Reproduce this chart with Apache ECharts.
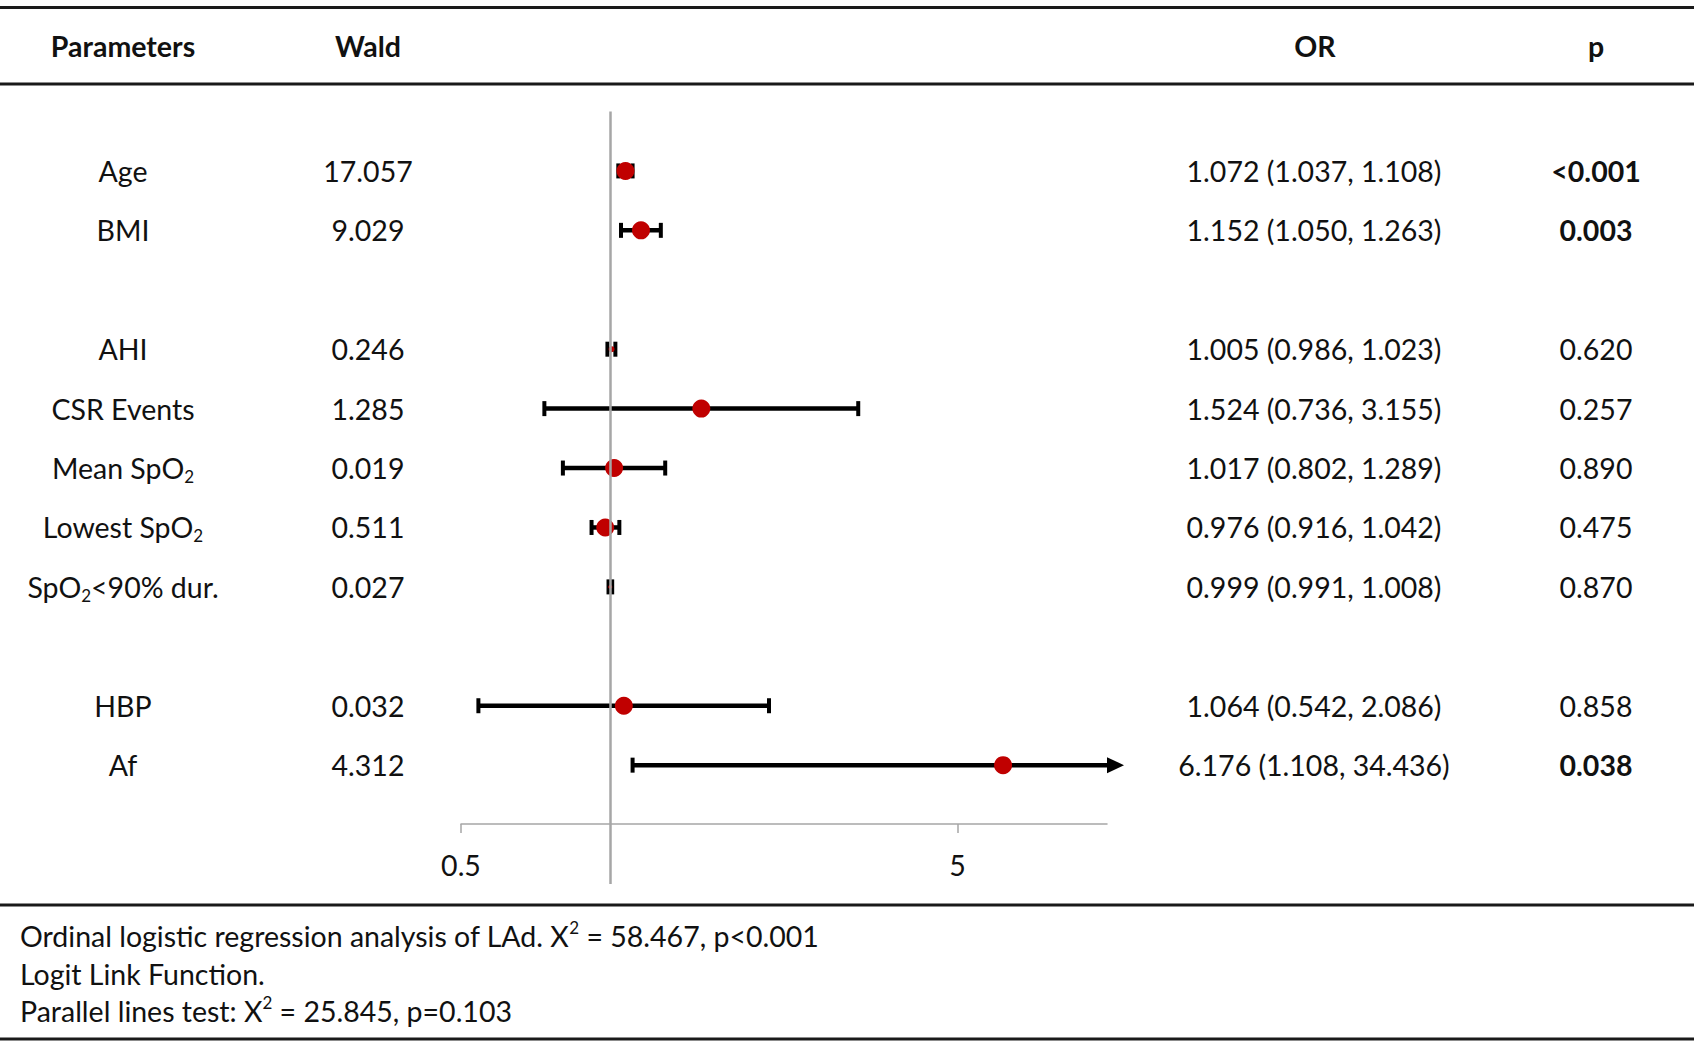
<!DOCTYPE html>
<html><head><meta charset="utf-8">
<script src="https://cdn.jsdelivr.net/npm/echarts@6/dist/echarts.min.js"></script>
<style>html,body{margin:0;padding:0;background:#fff}#c{width:1694px;height:1042px}</style>
</head><body><div id="c"></div>
<script>
// ---------------- data ----------------
const parameters = ['Age', 'BMI', 'AHI', 'CSR Events', 'Mean SpO2', 'Lowest SpO2', 'SpO2<90% dur.', 'HBP', 'Af'];
const waldValues = ['17.057', '9.029', '0.246', '1.285', '0.019', '0.511', '0.027', '0.032', '4.312'];
const oddsRatios = [1.072, 1.152, 1.005, 1.524, 1.017, 0.976, 0.999, 1.064, 6.176];
const ciLower = [1.037, 1.050, 0.986, 0.736, 0.802, 0.916, 0.991, 0.542, 1.108];
const ciUpper = [1.108, 1.263, 1.023, 3.155, 1.289, 1.042, 1.008, 2.086, 34.436];
const pValues = ['<0.001', '0.003', '0.620', '0.257', '0.890', '0.475', '0.870', '0.858', '0.038'];
const significant = [true, true, false, false, false, false, false, false, true];
// row order with spacer rows between the groups
const rowOrder = ['_s0', 'Age', 'BMI', '_s1', 'AHI', 'CSR Events', 'Mean SpO2', 'Lowest SpO2', 'SpO2<90% dur.', '_s2', 'HBP', 'Af', '_s3', '_s4'];
const xTickValues = [0.5, 5];
const headers = ['Parameters', 'Wald', 'OR', 'p'];
const footnotes = [
  'Ordinal logistic regression analysis of LAd. X{sup|2} = 58.467, p<0.001',
  'Logit Link Function.',
  'Parallel lines test: X{sup|2} = 25.845, p=0.103'
];

// ---------------- style ----------------
const FONT = 'Lato, "Open Sans", sans-serif';
const FS = 28.5;
const TXT = '#111';
const dotSizes = [18, 18, 6, 18, 18, 18, 4, 18, 18];

const orText = oddsRatios.map((v, i) => `${v.toFixed(3)} (${ciLower[i].toFixed(3)}, ${ciUpper[i].toFixed(3)})`);
const idx = k => parameters.indexOf(k);

const subRich = {
  sub: { fontSize: 17, fontFamily: FONT, color: TXT, lineHeight: 17, verticalAlign: 'bottom' },
  n: { fontSize: FS, fontFamily: FONT, color: TXT, lineHeight: 34 },
  b: { fontSize: FS, fontFamily: FONT, color: TXT, fontWeight: 'bold', lineHeight: 34 }
};

function yAxisCol(position, margin, fmt) {
  return {
    type: 'category', data: rowOrder, inverse: true, boundaryGap: false, position,
    axisLine: { show: false }, axisTick: { show: false }, splitLine: { show: false },
    axisLabel: {
      interval: 0, margin, align: 'center', fontFamily: FONT, fontSize: FS, color: TXT,
      lineHeight: 34, rich: subRich,
      formatter: v => { const i = idx(v); return i < 0 ? '' : fmt(i); }
    }
  };
}

const gridLeft = 461, gridRight = 1107, gridTop = 111.5, gridBottom = 884;

function renderErrorBar(params, api) {
  const yv = api.value(2);
  const p0 = api.coord([api.value(0), yv]);
  const p1 = api.coord([api.value(1), yv]);
  const cs = params.coordSys;
  const right = cs.x + cs.width;
  const clipped = p1[0] > right + 0.5;
  const x1 = clipped ? right : p1[0];
  const y = p0[1];
  const st = { stroke: '#000', lineWidth: 4.5 };
  const capSt = { stroke: '#000', lineWidth: 4 };
  const cap = 7.5;
  const children = [
    { type: 'line', shape: { x1: p0[0], y1: y, x2: x1, y2: y }, style: st },
    { type: 'line', shape: { x1: p0[0], y1: y - cap, x2: p0[0], y2: y + cap }, style: capSt }
  ];
  if (clipped) {
    children.push({ type: 'polygon', shape: { points: [[x1, y - 8], [x1 + 17, y], [x1, y + 8]] }, style: { fill: '#000' } });
  } else {
    children.push({ type: 'line', shape: { x1: x1, y1: y - cap, x2: x1, y2: y + cap }, style: capSt });
  }
  return { type: 'group', children };
}

const chart = echarts.init(document.getElementById('c'), null, { renderer: 'svg', width: 1694, height: 1042 });

const headerX = [123, 368, 1315, 1596];
const ruleY = [7.5, 84, 905, 1039];

const option = {
  backgroundColor: '#fff',
  animation: false,
  grid: { left: gridLeft, right: 1694 - gridRight, top: gridTop, bottom: 1042 - gridBottom, containLabel: false },
  xAxis: {
    type: 'log', logBase: 10, min: 0.5, max: 10, position: 'bottom', offset: -60,
    axisLine: { show: true, lineStyle: { color: '#a6a6a6', width: 1.5 } },
    axisTick: { show: true, customValues: xTickValues, length: 9, inside: false, lineStyle: { color: '#a6a6a6', width: 1.5 } },
    axisLabel: { customValues: xTickValues, margin: 26, fontFamily: FONT, fontSize: FS, color: TXT, formatter: v => String(v) },
    splitLine: { show: false }, minorTick: { show: false }, minorSplitLine: { show: false }
  },
  yAxis: [
    yAxisCol('left', gridLeft - 123, i => '{n|' + parameters[i].replace(/SpO2/g, 'SpO}{sub|2}{n|') + '}'),
    yAxisCol('left', gridLeft - 368, i => waldValues[i]),
    yAxisCol('right', 1314 - gridRight, i => orText[i]),
    yAxisCol('right', 1596 - gridRight, i => significant[i] ? '{b|' + pValues[i] + '}' : pValues[i])
  ],
  series: [
    {
      type: 'scatter', data: [], z: 1, silent: true,
      markLine: {
        silent: true, symbol: ['none', 'none'], label: { show: false },
        lineStyle: { color: '#a6a6a6', width: 2.5, type: 'solid' },
        emphasis: { disabled: true },
        data: [{ xAxis: 1 }]
      }
    },
    {
      type: 'custom', z: 3, clip: false, silent: true,
      renderItem: renderErrorBar,
      encode: { x: [0, 1], y: 2 },
      data: parameters.map((p, i) => [ciLower[i], ciUpper[i], p])
    },
    {
      type: 'scatter', z: 4, silent: true,
      symbol: 'circle',
      itemStyle: { color: '#c00000', opacity: 1 },
      data: parameters.map((p, i) => ({ value: [oddsRatios[i], p], symbolSize: dotSizes[i] }))
    }
  ],
  graphic: [
    ...ruleY.map(y => ({ type: 'line', silent: true, shape: { x1: 0, y1: y, x2: 1694, y2: y }, style: { stroke: '#1a1a1a', lineWidth: 3 } })),
    ...headers.map((h, i) => ({
      type: 'text', silent: true, x: headerX[i], y: 46,
      style: { text: h, fontFamily: FONT, fontSize: 28.5, fontWeight: 'bold', fill: TXT, align: 'center', verticalAlign: 'middle' }
    })),
    ...footnotes.map((t, i) => ({
      type: 'text', silent: true, x: 20, y: 936 + i * 37.5,
      style: {
        text: t, fontFamily: FONT, fontSize: FS, fill: TXT, align: 'left', verticalAlign: 'middle', lineHeight: 34,
        rich: { sup: { fontSize: 17, fontFamily: FONT, fill: TXT, lineHeight: 17, verticalAlign: 'top' } }
      }
    }))
  ]
};
chart.setOption(option);
</script>
</body></html>
